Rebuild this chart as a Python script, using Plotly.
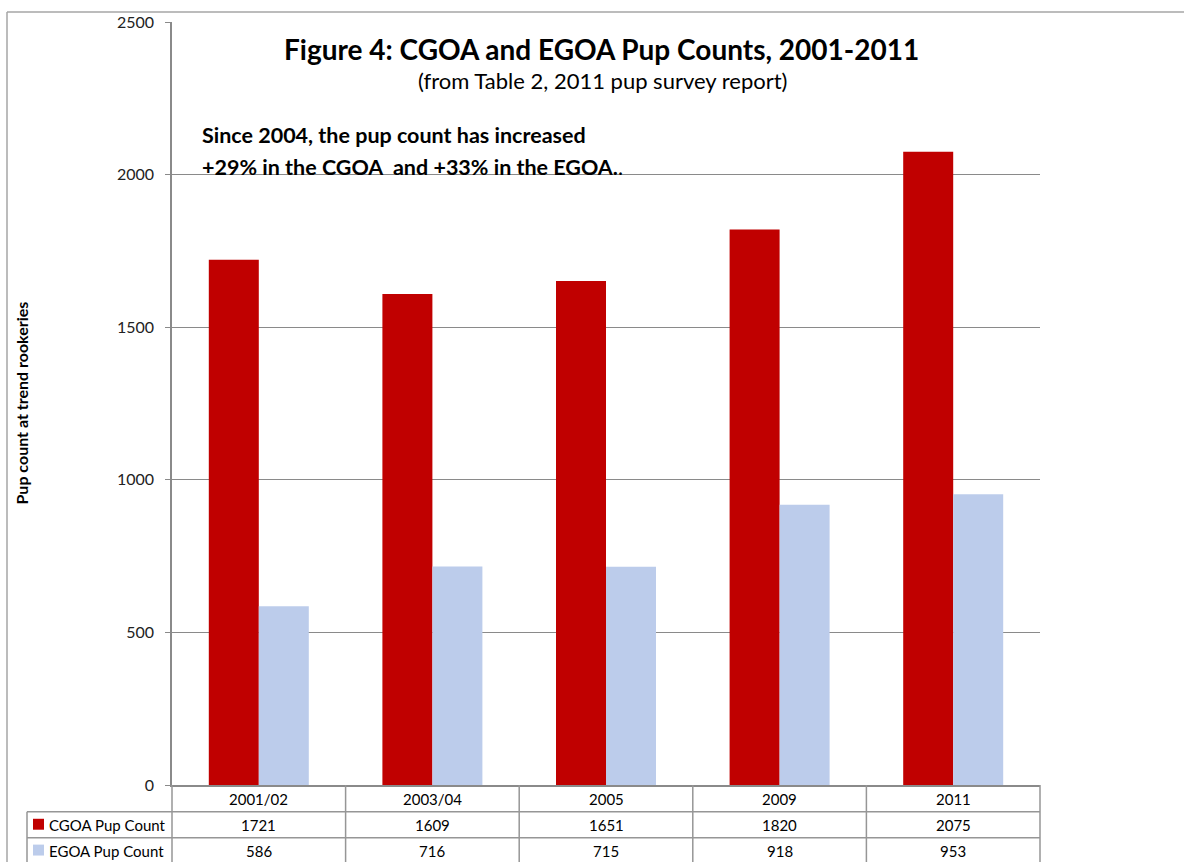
import plotly.graph_objects as go

categories = ["2001/02", "2003/04", "2005", "2009", "2011"]
cgoa = [1721, 1609, 1651, 1820, 2075]
egoa = [586, 716, 715, 918, 953]
series_names = ["CGOA Pup Count", "EGOA Pup Count"]
y_ticks = [0, 500, 1000, 1500, 2000, 2500]

RED = "#C00000"
BLUE = "#BCCCEB"
GRID = "#8A8A8A"
TBL = "#969696"
FONT = "Lato"

W, H = 1184, 862
L, R, T, B = 172, 1040, 17, 785
PW, PH = R - L, B - T


def px(x):
    return (x - L) / PW


def py(y):
    return (B - y) / PH


fig = go.Figure()
fig.add_trace(go.Bar(x=categories, y=cgoa, name=series_names[0],
                     marker=dict(color=RED, line=dict(width=0))))
fig.add_trace(go.Bar(x=categories, y=egoa, name=series_names[1],
                     marker=dict(color=BLUE, line=dict(width=0))))

shapes = []
annotations = []

# outer chart frame
shapes.append(dict(type="line", xref="paper", yref="paper", x0=px(7), x1=px(7), y0=py(7), y1=py(H + 5),
                   line=dict(color="#A6A6A6", width=1.5)))
shapes.append(dict(type="line", xref="paper", yref="paper", x0=px(7), x1=px(W + 5), y0=py(7), y1=py(7),
                   line=dict(color="#A6A6A6", width=1.5)))

# data table lines
n = len(categories)
for i in range(n + 1):
    xp = i / n
    shapes.append(dict(type="line", xref="paper", yref="paper", x0=xp, x1=xp, y0=0, y1=py(H + 5),
                       line=dict(color=TBL, width=1.5)))
shapes.append(dict(type="line", xref="paper", yref="paper", x0=px(27), x1=px(27), y0=py(812), y1=py(H + 5),
                   line=dict(color=TBL, width=1.5)))
for yy in [812, 838]:
    shapes.append(dict(type="line", xref="paper", yref="paper", x0=px(27), x1=1, y0=py(yy), y1=py(yy),
                       line=dict(color=TBL, width=1.5)))

# header labels
for i, c in enumerate(categories):
    annotations.append(dict(x=i, xref="x", y=py(799), yref="paper", text=c, showarrow=False,
                            xanchor="center", yanchor="middle", font=dict(family=FONT, size=15, color="black")))
# row values
for row_vals, yy in [(cgoa, 825), (egoa, 851)]:
    for i, v in enumerate(row_vals):
        annotations.append(dict(x=i, xref="x", y=py(yy), yref="paper", text=str(v), showarrow=False,
                                xanchor="center", yanchor="middle", font=dict(family=FONT, size=15, color="black")))
# legend keys and names
for name, col, yy in [(series_names[0], RED, 825), (series_names[1], BLUE, 851)]:
    shapes.append(dict(type="rect", xref="paper", yref="paper", x0=px(33), x1=px(44), y0=py(yy - 6), y1=py(yy + 5),
                       fillcolor=col, line=dict(width=0)))
    annotations.append(dict(x=px(47), xref="paper", y=py(yy), yref="paper", text=name, showarrow=False,
                            xanchor="left", yanchor="middle", font=dict(family=FONT, size=15, color="black")))

# titles
annotations.append(dict(x=px(601), xref="paper", y=py(44), yref="paper",
                        text="<b>Figure 4: CGOA and EGOA Pup Counts, 2001-2011</b>", showarrow=False,
                        xanchor="center", yanchor="middle", font=dict(family=FONT, size=28, color="black")))
annotations.append(dict(x=px(602), xref="paper", y=py(76), yref="paper",
                        text="(from Table 2, 2011 pup survey report)", showarrow=False,
                        xanchor="center", yanchor="middle", font=dict(family=FONT, size=22, color="black")))
annotations.append(dict(x=px(200), xref="paper", y=py(131), yref="paper",
                        text="<b>Since 2004, the pup count has increased</b>", showarrow=False,
                        xanchor="left", yanchor="middle", font=dict(family=FONT, size=21.5, color="black")))
annotations.append(dict(x=px(200), xref="paper", y=py(163), yref="paper",
                        text="<b>+29% in the CGOA&nbsp; and +33% in the EGOA.</b>.", showarrow=False,
                        xanchor="left", yanchor="middle", font=dict(family=FONT, size=21.5, color="black")))
# y-axis title
annotations.append(dict(x=px(21), xref="paper", y=0.5, yref="paper", text="<b>Pup count at trend rookeries</b>",
                        showarrow=False, textangle=-90, xanchor="center", yanchor="middle",
                        font=dict(family=FONT, size=16, color="black")))

fig.update_layout(
    width=W, height=H, autosize=False,
    margin=dict(l=L, r=W - R, t=T, b=H - B, pad=0),
    paper_bgcolor="white", plot_bgcolor="white",
    barmode="group", bargap=0.424, bargroupgap=0,
    showlegend=False,
    shapes=shapes, annotations=annotations,
    font=dict(family=FONT),
)
fig.update_xaxes(type="category", showticklabels=False, ticks="", showgrid=False, showline=True,
                 linecolor=GRID, linewidth=1.5, zeroline=False, range=[-0.5, n - 0.5])
fig.update_yaxes(range=[0, 2500], tickvals=y_ticks, showgrid=True, gridcolor=GRID, gridwidth=1.2,
                 showline=True, linecolor=GRID, linewidth=1.5, ticks="outside", ticklen=5, tickcolor=GRID,
                 tickwidth=1.2, zeroline=False, ticklabelstandoff=8,
                 tickfont=dict(family=FONT, size=16, color="#222222"))

fig.write_html("out.html")
